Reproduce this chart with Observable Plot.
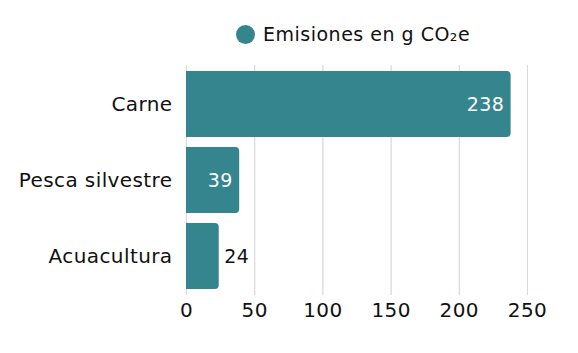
<!DOCTYPE html>
<html>
<head>
<meta charset="utf-8">
<script src="https://cdn.jsdelivr.net/npm/d3@7"></script>
<script src="https://cdn.jsdelivr.net/npm/@observablehq/plot@0.6"></script>
<style>
  body { margin: 0; background: #fff; font-family: "DejaVu Sans", sans-serif; }
  #legend { height: 60px; position: relative; }
  #legend .item { position: absolute; left: 236px; top: 23px; display: flex; align-items: center; font-size: 19px; color: #111; letter-spacing: 0.5px; }
  #legend .sw { width: 19px; height: 19px; border-radius: 50%; background: #35858f; margin-right: 8px; }
</style>
</head>
<body>
<div id="legend"></div>
<div id="chart"></div>
<script>
const categories = ["Carne", "Pesca silvestre", "Acuacultura"];
const values = [238, 39, 24];
const seriesName = "Emisiones en g CO₂e";
const xTicks = [0, 50, 100, 150, 200, 250];
const color = "#35858f";

const data = categories.map((c, i) => ({category: c, value: values[i]}));

document.getElementById("legend").innerHTML =
  `<div class="item"><span class="sw"></span><span>${seriesName}</span></div>`;

const inside = data.filter(d => d.value >= 30);
const outside = data.filter(d => d.value < 30);

const chart = Plot.plot({
  width: 578,
  height: 293,
  marginLeft: 186,
  marginRight: 51,
  marginTop: 5,
  marginBottom: 58,
  style: {fontFamily: "DejaVu Sans, sans-serif", fontSize: "20px", color: "#111", background: "#fff", letterSpacing: "0.4px"},
  x: {domain: [0, 250], ticks: xTicks, tickSize: 0, tickPadding: 7, label: null, grid: true},
  y: {domain: categories, paddingInner: 0.13, paddingOuter: 0.065, tickSize: 0, tickPadding: 14, label: null},
  marks: [
    Plot.gridX(xTicks, {stroke: "#d9d9d9", strokeOpacity: 1}),
    Plot.barX(data, {x: "value", y: "category", fill: color, rx2y1: 4, rx2y2: 4}),
    Plot.text(inside, {x: "value", y: "category", text: d => String(d.value), textAnchor: "end", dx: -7, fill: "#fff", fontSize: 19}),
    Plot.text(outside, {x: "value", y: "category", text: d => String(d.value), textAnchor: "start", dx: 5, fill: "#111", fontSize: 19})
  ]
});
document.getElementById("chart").appendChild(chart);
</script>
</body>
</html>
